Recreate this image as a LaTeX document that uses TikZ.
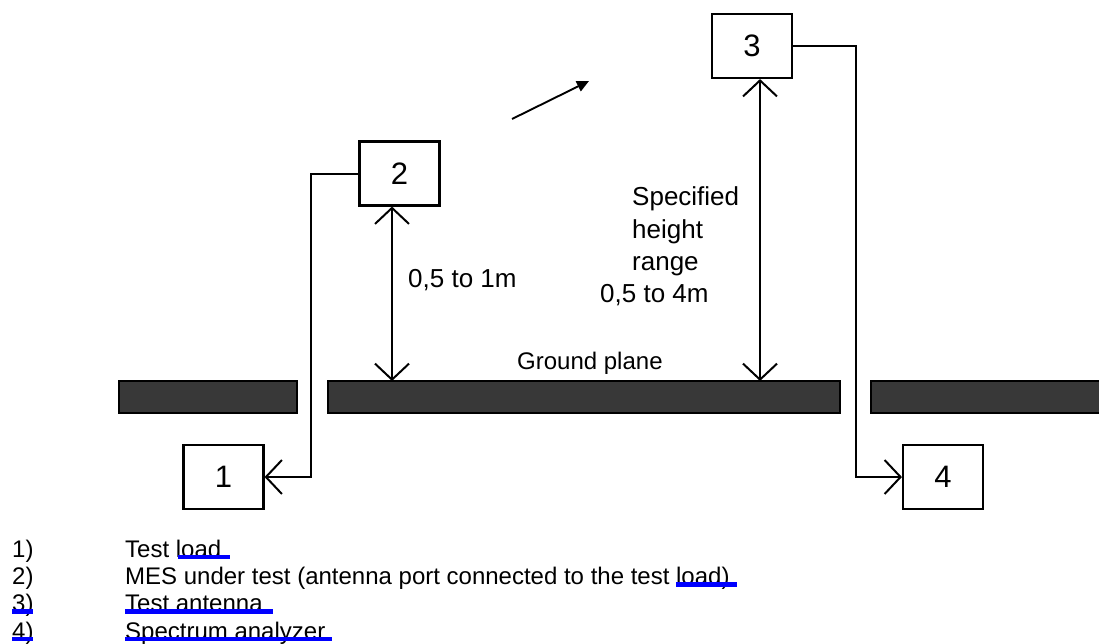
\documentclass[tikz,border=0pt]{standalone}
\usepackage{fontspec}
\setmainfont{Liberation Sans}
\usetikzlibrary{arrows.meta}
\begin{document}
\begin{tikzpicture}[x=1pt,y=-1pt,
  box/.style={draw,line width=2.1pt,minimum width=80pt,minimum height=64pt,inner sep=0pt,font=\fontsize{31}{31}\selectfont},
  plane/.style={draw=black,line width=2.2pt,fill=black!78},
  conn/.style={line width=2pt,-{Straight Barb[length=16pt,width=34pt]}},
  dbl/.style={line width=2pt,{Straight Barb[length=16pt,width=34pt]}-{Straight Barb[length=16pt,width=34pt]}},
  dir/.style={line width=1.9pt,-{Triangle[length=12pt,width=11pt]}},
  lbl/.style={anchor=base west,inner sep=0pt,font=\fontsize{24}{24}\selectfont},
  biglbl/.style={lbl,font=\fontsize{26}{26}\selectfont},
  ul/.style={fill={rgb,255:red,0;green,0;blue,255}}
]
\useasboundingbox (0,0) rectangle (1099,643);
% ground plane
\path[plane] (119,381) rectangle (297,413);
\path[plane] (328,381) rectangle (840,413);
\path[plane] (871,381) rectangle (1110,413);
% boxes
\node[box] (b1) at (223.5,477) {1};
\node[box] (b2) at (399.5,173.5) {2};
\node[box] (b3) at (752,46) {3};
\node[box] (b4) at (943,477) {4};
% ground points
\coordinate (g2) at (392,381);
\coordinate (g3) at (760,381);
% connectors
\draw[conn] (b2.west) -- ++(-47,0) |- (b1.east);
\draw[conn] (b3.east) -- ++(63,0) |- (b4.west);
\draw[dbl] (g2 |- b2.south) -- (g2);
\draw[dbl] (g3 |- b3.south) -- (g3);
% direction arrow
\coordinate (d1) at (512,119);
\coordinate (d2) at (589,81);
\draw[dir] (d1) -- (d2);
% labels
\node[biglbl] (t1) at (408,287) {0,5 to 1m};
\node[biglbl] (t2) at (632,205) {Specified};
\node[biglbl] (t3) at (632,238) {height};
\node[biglbl] (t4) at (632,270) {range};
\node[biglbl] (t5) at (600,302) {0,5 to 4m};
\node[lbl] (gp) at (517,369) {Ground plane};
% legend
\node[lbl] (n1) at (12,557) {1)};
\node[lbl] (m1) at (125,557) {Test load};
\node[lbl] (n2) at (12,584.3) {2)};
\node[lbl] (m2) at (125,584.3) {MES under test (antenna port connected to the test load)};
\node[lbl] (n3) at (12,611.6) {3)};
\node[lbl] (m3) at (125,611.6) {Test antenna};
\node[lbl] (n4) at (12,639) {4)};
\node[lbl] (m4) at (125,639) {Spectrum analyzer};
% change-mark underlines
\fill[ul] (178,554.5) rectangle (230,559.2);
\fill[ul] (676,581.8) rectangle (737,586.5);
\fill[ul] (12,609.1) rectangle (33,613.8);
\fill[ul] (125,609.1) rectangle (273,613.8);
\fill[ul] (12,636.5) rectangle (33,641.2);
\fill[ul] (125,636.5) rectangle (332,641.2);
\end{tikzpicture}
\end{document}
